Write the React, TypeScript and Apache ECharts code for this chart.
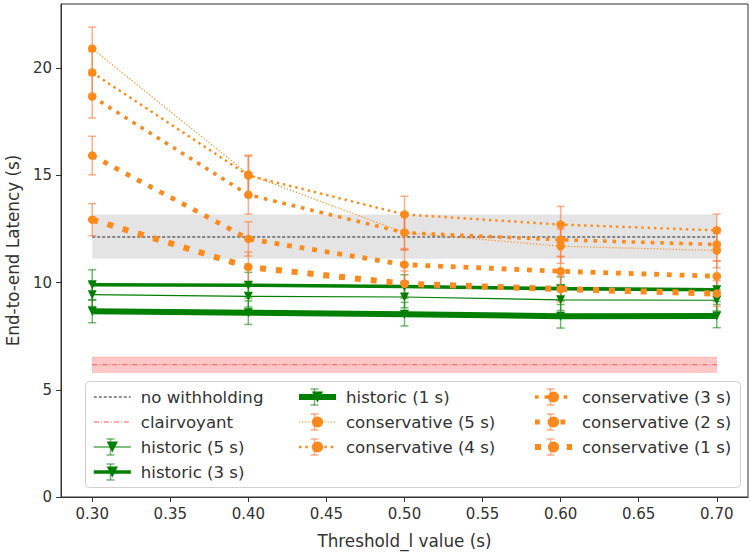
import React, { useEffect, useRef } from "react";
import * as echarts from "echarts";

const thresholds = [0.3, 0.4, 0.5, 0.6, 0.7];
const xTicks = [0.3, 0.35, 0.4, 0.45, 0.5, 0.55, 0.6, 0.65, 0.7];
const yTicks = [0, 5, 10, 15, 20];

const noWithholdingMean = 12.13;
const noWithholdingBand = [11.12, 13.18];
const clairvoyantMean = 6.17;
const clairvoyantBand = [5.81, 6.53];

const historic5 = [9.44, 9.36, 9.33, 9.2, 9.18];
const historic3 = [9.9, 9.88, 9.82, 9.72, 9.67];
const historic1 = [8.66, 8.6, 8.53, 8.43, 8.44];
const historic5Err = [0.55, 0.5, 0.5, 0.5, 0.5];
const historic3Err = [0.7, 0.6, 0.55, 0.55, 0.55];
const historic1Err = [0.53, 0.55, 0.55, 0.55, 0.54];

const conservative5 = [20.92, 15.05, 12.33, 11.7, 11.5];
const conservative4 = [19.8, 15.0, 13.18, 12.71, 12.44];
const conservative3 = [18.68, 14.1, 12.33, 12.0, 11.78];
const conservative2 = [15.93, 12.04, 10.84, 10.53, 10.3];
const conservative1 = [12.94, 10.73, 9.95, 9.7, 9.49];
const conservative5Err = [1.0, 0.9, 0.8, 0.8, 0.8];
const conservative4Err = [1.0, 0.9, 0.85, 0.85, 0.76];
const conservative3Err = [1.0, 0.9, 0.8, 0.8, 0.75];
const conservative2Err = [0.9, 0.8, 0.75, 0.7, 0.7];
const conservative1Err = [0.75, 0.7, 0.6, 0.6, 0.6];

const legendCol1 = ["no withholding", "clairvoyant", "historic (5 s)", "historic (3 s)"];
const legendCol2 = ["historic (1 s)", "conservative (5 s)", "conservative (4 s)"];
const legendCol3 = ["conservative (3 s)", "conservative (2 s)", "conservative (1 s)"];

const FONT = "DejaVu Sans";
const GREEN = "#008000";
const ORANGE = "#ff8a1c";
const GREEN_ERR = "rgba(0,128,0,0.55)";
const ORANGE_ERR = "rgba(255,120,60,0.6)";

const lineWidths: Record<string, number> = {
  "historic (5 s)": 1.2,
  "historic (3 s)": 3.6,
  "historic (1 s)": 6,
  "conservative (5 s)": 1.2,
  "conservative (4 s)": 2.4,
  "conservative (3 s)": 3.6,
  "conservative (2 s)": 4.8,
  "conservative (1 s)": 6,
};

function pts(vals: number[]) {
  return thresholds.map((x, i) => [x, vals[i]]);
}
function errPts(vals: number[], errs: number[]) {
  return thresholds.map((x, i) => [x, vals[i] - errs[i], vals[i] + errs[i]]);
}

function errRender(color: string) {
  return (params: any, api: any) => {
    const x = api.value(0);
    const lo = api.value(1);
    const hi = api.value(2);
    const p1 = api.coord([x, lo]);
    const p2 = api.coord([x, hi]);
    const cw = 4;
    const st = { stroke: color, lineWidth: 1.5 };
    return {
      type: "group",
      children: [
        { type: "line", shape: { x1: p1[0], y1: p1[1], x2: p2[0], y2: p2[1] }, style: st },
        { type: "line", shape: { x1: p1[0] - cw, y1: p1[1], x2: p1[0] + cw, y2: p1[1] }, style: st },
        { type: "line", shape: { x1: p2[0] - cw, y1: p2[1], x2: p2[0] + cw, y2: p2[1] }, style: st },
      ],
    };
  };
}

function errSeries(vals: number[], errs: number[], color: string, z: number) {
  return {
    type: "custom",
    renderItem: errRender(color),
    data: errPts(vals, errs),
    encode: { x: 0, y: [1, 2] },
    z,
    silent: true,
  };
}

function consDash(lw: number) {
  return [lw, lw * 1.65];
}

function histSeries(name: string, vals: number[], z: number) {
  const lw = lineWidths[name];
  return {
    name,
    type: "line",
    data: pts(vals),
    symbol: "triangle",
    symbolRotate: 180,
    symbolSize: 9,
    showSymbol: true,
    z,
    itemStyle: { color: GREEN },
    lineStyle: { color: GREEN, width: lw },
  };
}

function consSeries(name: string, vals: number[], z: number) {
  const lw = lineWidths[name];
  return {
    name,
    type: "line",
    data: pts(vals),
    symbol: "circle",
    symbolSize: 8.5,
    showSymbol: true,
    z,
    itemStyle: { color: ORANGE },
    lineStyle: { color: ORANGE, width: lw, type: consDash(lw), cap: "butt" },
  };
}

function legendItem(name: string) {
  if (name === "no withholding") {
    return { name, itemStyle: { opacity: 0 }, lineStyle: { color: "#222", width: 1, type: [3, 2] } };
  }
  if (name === "clairvoyant") {
    return { name, itemStyle: { opacity: 0 }, lineStyle: { color: "#ff5555", width: 1, type: [5, 2, 1, 2] } };
  }
  const lw = lineWidths[name];
  if (name.startsWith("historic")) {
    return { name, lineStyle: { color: GREEN, width: lw, type: "solid" } };
  }
  return { name, lineStyle: { color: ORANGE, width: lw, type: consDash(lw), cap: "butt" } };
}

export default function App() {
  const ref = useRef<HTMLDivElement>(null);
  useEffect(() => {
    document.body.style.margin = "0";
    const chart = echarts.init(ref.current!, null, { renderer: "svg" });
    const legendTop = 388;
    const rowH = 25;
    const iconW = 37;
    const colLefts = [92, 296, 532];
    const legendText = { fontFamily: FONT, fontSize: 16.6, color: "#333", lineHeight: 18, padding: [0, 0, 0, 5] };
    const legendCommon = {
      orient: "vertical",
      itemWidth: iconW,
      itemHeight: 14,
      itemGap: 7,
      padding: 0,
      top: legendTop,
      textStyle: legendText,
      z: 6,
      selectedMode: false,
    };
    const cols = [legendCol1, legendCol2, legendCol3];
    const legendErrBars: any[] = [];
    cols.forEach((col, ci) => {
      col.forEach((name, ri) => {
        if (name === "no withholding" || name === "clairvoyant") return;
        const cx = colLefts[ci] + iconW / 2;
        const cy = legendTop + 9 + ri * rowH;
        const color = name.startsWith("historic") ? GREEN_ERR : ORANGE_ERR;
        const st = { stroke: color, lineWidth: 1.5 };
        legendErrBars.push({
          type: "group",
          z: 7,
          silent: true,
          children: [
            { type: "line", z: 7, shape: { x1: cx, y1: cy - 8, x2: cx, y2: cy + 8 }, style: st },
            { type: "line", z: 7, shape: { x1: cx - 4, y1: cy - 8, x2: cx + 4, y2: cy - 8 }, style: st },
            { type: "line", z: 7, shape: { x1: cx - 4, y1: cy + 8, x2: cx + 4, y2: cy + 8 }, style: st },
          ],
        });
      });
    });
    chart.setOption({
      animation: false,
      grid: {
        left: 61,
        right: 2,
        top: 4,
        bottom: 57,
        show: true,
        borderColor: "#333",
        borderWidth: 1,
        containLabel: false,
        outerBoundsMode: "none",
      },
      xAxis: {
        type: "value",
        min: 0.28,
        max: 0.72,
        name: "Threshold_l value (s)",
        nameLocation: "middle",
        nameGap: 35,
        nameTextStyle: { fontFamily: FONT, fontSize: 16.8, color: "#333" },
        axisLine: { show: true, lineStyle: { color: "#333", width: 1 } },
        axisTick: { show: true, inside: false, length: 5, customValues: xTicks, lineStyle: { color: "#333" } },
        axisLabel: {
          customValues: xTicks,
          formatter: (v: number) => v.toFixed(2),
          fontFamily: FONT,
          fontSize: 15,
          color: "#333",
          margin: 9,
        },
        splitLine: { show: false },
      },
      yAxis: {
        type: "value",
        min: 0,
        max: 23,
        name: "End-to-end Latency (s)",
        nameLocation: "middle",
        nameGap: 40,
        nameTextStyle: { fontFamily: FONT, fontSize: 16.8, color: "#333" },
        axisLine: { show: true, lineStyle: { color: "#333", width: 1 } },
        axisTick: { show: true, inside: false, length: 5, customValues: yTicks, lineStyle: { color: "#333" } },
        axisLabel: {
          customValues: yTicks,
          fontFamily: FONT,
          fontSize: 15,
          color: "#333",
          margin: 9,
        },
        splitLine: { show: false },
      },
      legend: cols.map((col, ci) => ({ ...legendCommon, left: colLefts[ci], data: col.map(legendItem) })),
      graphic: [
        {
          type: "rect",
          z: 5,
          shape: { x: 85.5, y: 381.5, width: 655, height: 106, r: 4 },
          style: { fill: "rgba(255,255,255,0.85)", stroke: "#d0d0d0", lineWidth: 1 },
          silent: true,
        },
        ...legendErrBars,
      ],
      series: [
        {
          name: "no withholding",
          type: "line",
          data: [[thresholds[0], noWithholdingMean], [thresholds[thresholds.length - 1], noWithholdingMean]],
          symbol: "none",
          z: 1,
          itemStyle: { color: "#222" },
          lineStyle: { color: "#222", width: 1, type: [3, 2] },
          markArea: {
            silent: true,
            itemStyle: { color: "#e4e4e4" },
            data: [[{ coord: [thresholds[0], noWithholdingBand[0]] }, { coord: [thresholds[thresholds.length - 1], noWithholdingBand[1]] }]],
          },
        },
        {
          name: "clairvoyant",
          type: "line",
          data: [[thresholds[0], clairvoyantMean], [thresholds[thresholds.length - 1], clairvoyantMean]],
          symbol: "none",
          z: 1,
          itemStyle: { color: "#ff5555" },
          lineStyle: { color: "#ff5555", width: 1, type: [5, 2, 1, 2] },
          markArea: {
            silent: true,
            itemStyle: { color: "rgba(255,0,0,0.22)", borderColor: "rgba(255,0,0,0.12)", borderWidth: 1 },
            data: [[{ coord: [thresholds[0], clairvoyantBand[0]] }, { coord: [thresholds[thresholds.length - 1], clairvoyantBand[1]] }]],
          },
        },
        errSeries(historic5, historic5Err, GREEN_ERR, 2),
        histSeries("historic (5 s)", historic5, 3),
        errSeries(historic3, historic3Err, GREEN_ERR, 2),
        histSeries("historic (3 s)", historic3, 3),
        errSeries(historic1, historic1Err, GREEN_ERR, 2),
        histSeries("historic (1 s)", historic1, 3),
        errSeries(conservative5, conservative5Err, ORANGE_ERR, 2),
        consSeries("conservative (5 s)", conservative5, 3),
        errSeries(conservative4, conservative4Err, ORANGE_ERR, 2),
        consSeries("conservative (4 s)", conservative4, 3),
        errSeries(conservative3, conservative3Err, ORANGE_ERR, 2),
        consSeries("conservative (3 s)", conservative3, 3),
        errSeries(conservative2, conservative2Err, ORANGE_ERR, 2),
        consSeries("conservative (2 s)", conservative2, 3),
        errSeries(conservative1, conservative1Err, ORANGE_ERR, 2),
        consSeries("conservative (1 s)", conservative1, 3),
      ],
    });
    return () => chart.dispose();
  }, []);
  return <div ref={ref} style={{ width: 750, height: 554 }} />;
}
